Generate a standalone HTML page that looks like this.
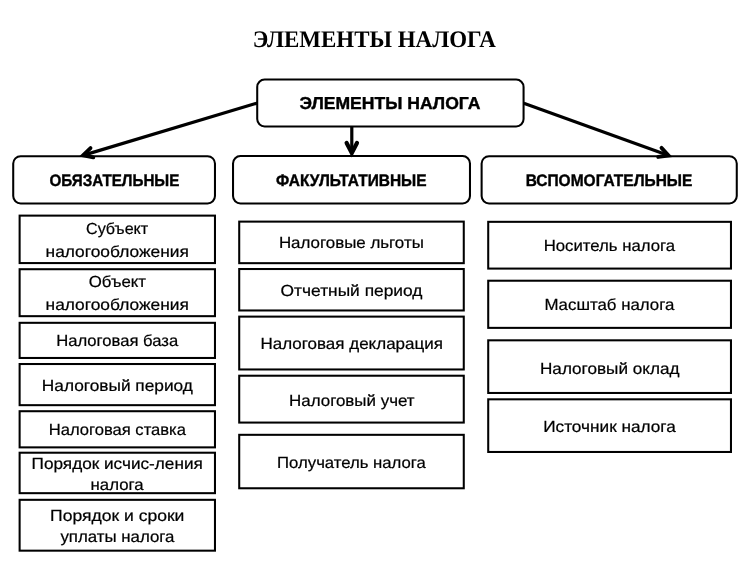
<!DOCTYPE html>
<html lang="ru"><head><meta charset="utf-8"><title>Элементы налога</title>
<style>html,body{margin:0;padding:0;background:#fff;}body{width:750px;height:561px;overflow:hidden;font-family:"Liberation Sans",sans-serif;}svg{display:block;will-change:transform;}text{fill:#000;}</style></head><body>
<svg width="750" height="561" viewBox="0 0 750 561">
<rect x="0" y="0" width="750" height="561" fill="#fff"/>
<rect x="257.22" y="79.53" width="266.35" height="46.95" rx="7.4" ry="7.4" fill="#fff" stroke="#000" stroke-width="2.05"/>
<rect x="13.22" y="156.22" width="201.75" height="47.25" rx="7.4" ry="7.4" fill="#fff" stroke="#000" stroke-width="2.05"/>
<rect x="233.03" y="156.03" width="236.95" height="47.45" rx="7.4" ry="7.4" fill="#fff" stroke="#000" stroke-width="2.05"/>
<rect x="481.62" y="156.22" width="255.15" height="47.25" rx="7.4" ry="7.4" fill="#fff" stroke="#000" stroke-width="2.05"/>
<rect x="19.62" y="215.62" width="195.35" height="47.45" fill="#fff" stroke="#000" stroke-width="2.05"/>
<rect x="19.62" y="269.22" width="195.35" height="46.95" fill="#fff" stroke="#000" stroke-width="2.05"/>
<rect x="19.62" y="322.82" width="195.35" height="35.15" fill="#fff" stroke="#000" stroke-width="2.05"/>
<rect x="19.62" y="364.02" width="195.35" height="41.15" fill="#fff" stroke="#000" stroke-width="2.05"/>
<rect x="19.62" y="411.22" width="195.35" height="36.15" fill="#fff" stroke="#000" stroke-width="2.05"/>
<rect x="19.62" y="452.72" width="195.35" height="40.45" fill="#fff" stroke="#000" stroke-width="2.05"/>
<rect x="19.62" y="499.82" width="195.35" height="50.85" fill="#fff" stroke="#000" stroke-width="2.05"/>
<rect x="239.22" y="221.62" width="224.55" height="41.55" fill="#fff" stroke="#000" stroke-width="2.05"/>
<rect x="239.22" y="269.02" width="224.55" height="41.45" fill="#fff" stroke="#000" stroke-width="2.05"/>
<rect x="239.22" y="316.62" width="224.55" height="52.85" fill="#fff" stroke="#000" stroke-width="2.05"/>
<rect x="239.22" y="375.72" width="224.55" height="46.85" fill="#fff" stroke="#000" stroke-width="2.05"/>
<rect x="239.22" y="434.82" width="224.55" height="53.45" fill="#fff" stroke="#000" stroke-width="2.05"/>
<rect x="488.22" y="221.83" width="242.75" height="46.75" fill="#fff" stroke="#000" stroke-width="2.05"/>
<rect x="488.22" y="280.72" width="242.75" height="47.15" fill="#fff" stroke="#000" stroke-width="2.05"/>
<rect x="488.22" y="340.32" width="242.75" height="52.65" fill="#fff" stroke="#000" stroke-width="2.05"/>
<rect x="488.22" y="399.32" width="242.75" height="52.65" fill="#fff" stroke="#000" stroke-width="2.05"/>
<line x1="257.5" y1="103.0" x2="83.00" y2="155.40" stroke="#000" stroke-width="3.2" stroke-linecap="butt"/><polyline points="90.53,148.08 83.00,155.40 93.31,157.36" fill="none" stroke="#000" stroke-width="3.8" stroke-linecap="round" stroke-linejoin="miter"/>
<line x1="351.8" y1="126.4" x2="351.80" y2="152.90" stroke="#000" stroke-width="3.2" stroke-linecap="butt"/><polyline points="346.63,142.97 351.80,152.90 356.97,142.97" fill="none" stroke="#000" stroke-width="4.2" stroke-linecap="round" stroke-linejoin="miter"/>
<line x1="523.8" y1="103.2" x2="668.60" y2="155.60" stroke="#000" stroke-width="3.2" stroke-linecap="butt"/><polyline points="658.19,156.99 668.60,155.60 661.49,147.87" fill="none" stroke="#000" stroke-width="3.8" stroke-linecap="round" stroke-linejoin="miter"/>
<text x="252.8" y="47.4" font-family="Liberation Serif" font-size="23.8" font-weight="bold" textLength="243.00" lengthAdjust="spacingAndGlyphs" text-rendering="geometricPrecision">ЭЛЕМЕНТЫ НАЛОГА</text>
<text x="299.6" y="109.2" font-family="Liberation Sans" font-size="17.3" font-weight="bold" textLength="180.80" lengthAdjust="spacingAndGlyphs" text-rendering="geometricPrecision" stroke="#000" stroke-width="0.4">ЭЛЕМЕНТЫ НАЛОГА</text>
<text x="49.4" y="185.5" font-family="Liberation Sans" font-size="16.7" font-weight="bold" textLength="130.00" lengthAdjust="spacingAndGlyphs" text-rendering="geometricPrecision" stroke="#000" stroke-width="0.4">ОБЯЗАТЕЛЬНЫЕ</text>
<text x="276" y="185.5" font-family="Liberation Sans" font-size="16.7" font-weight="bold" textLength="150.60" lengthAdjust="spacingAndGlyphs" text-rendering="geometricPrecision" stroke="#000" stroke-width="0.4">ФАКУЛЬТАТИВНЫЕ</text>
<text x="525.7" y="185.5" font-family="Liberation Sans" font-size="16.7" font-weight="bold" textLength="166.70" lengthAdjust="spacingAndGlyphs" text-rendering="geometricPrecision" stroke="#000" stroke-width="0.4">ВСПОМОГАТЕЛЬНЫЕ</text>
<text x="86" y="234" font-family="Liberation Sans" font-size="16.0" font-weight="normal" textLength="62.20" lengthAdjust="spacingAndGlyphs" text-rendering="geometricPrecision" stroke="#000" stroke-width="0.22">Субъект</text>
<text x="45.6" y="256.8" font-family="Liberation Sans" font-size="16.0" font-weight="normal" textLength="143.20" lengthAdjust="spacingAndGlyphs" text-rendering="geometricPrecision" stroke="#000" stroke-width="0.22">налогообложения</text>
<text x="88.8" y="287" font-family="Liberation Sans" font-size="16.0" font-weight="normal" textLength="57.20" lengthAdjust="spacingAndGlyphs" text-rendering="geometricPrecision" stroke="#000" stroke-width="0.22">Объект</text>
<text x="45.6" y="309.6" font-family="Liberation Sans" font-size="16.0" font-weight="normal" textLength="143.20" lengthAdjust="spacingAndGlyphs" text-rendering="geometricPrecision" stroke="#000" stroke-width="0.22">налогообложения</text>
<text x="56.2" y="346" font-family="Liberation Sans" font-size="16.0" font-weight="normal" textLength="122.00" lengthAdjust="spacingAndGlyphs" text-rendering="geometricPrecision" stroke="#000" stroke-width="0.22">Налоговая база</text>
<text x="41.8" y="390.8" font-family="Liberation Sans" font-size="16.0" font-weight="normal" textLength="151.10" lengthAdjust="spacingAndGlyphs" text-rendering="geometricPrecision" stroke="#000" stroke-width="0.22">Налоговый период</text>
<text x="48.8" y="435" font-family="Liberation Sans" font-size="16.0" font-weight="normal" textLength="137.10" lengthAdjust="spacingAndGlyphs" text-rendering="geometricPrecision" stroke="#000" stroke-width="0.22">Налоговая ставка</text>
<text x="31.6" y="468.6" font-family="Liberation Sans" font-size="16.0" font-weight="normal" textLength="171.20" lengthAdjust="spacingAndGlyphs" text-rendering="geometricPrecision" stroke="#000" stroke-width="0.22">Порядок исчис-ления</text>
<text x="90.6" y="490.4" font-family="Liberation Sans" font-size="16.0" font-weight="normal" textLength="53.00" lengthAdjust="spacingAndGlyphs" text-rendering="geometricPrecision" stroke="#000" stroke-width="0.22">налога</text>
<text x="50.1" y="520.6" font-family="Liberation Sans" font-size="16.0" font-weight="normal" textLength="134.30" lengthAdjust="spacingAndGlyphs" text-rendering="geometricPrecision" stroke="#000" stroke-width="0.22">Порядок и сроки</text>
<text x="60.4" y="542.4" font-family="Liberation Sans" font-size="16.0" font-weight="normal" textLength="114.10" lengthAdjust="spacingAndGlyphs" text-rendering="geometricPrecision" stroke="#000" stroke-width="0.22">уплаты налога</text>
<text x="278.9" y="248" font-family="Liberation Sans" font-size="16.0" font-weight="normal" textLength="144.90" lengthAdjust="spacingAndGlyphs" text-rendering="geometricPrecision" stroke="#000" stroke-width="0.22">Налоговые льготы</text>
<text x="280.6" y="296" font-family="Liberation Sans" font-size="16.0" font-weight="normal" textLength="141.80" lengthAdjust="spacingAndGlyphs" text-rendering="geometricPrecision" stroke="#000" stroke-width="0.22">Отчетный период</text>
<text x="260.5" y="348.5" font-family="Liberation Sans" font-size="16.0" font-weight="normal" textLength="182.40" lengthAdjust="spacingAndGlyphs" text-rendering="geometricPrecision" stroke="#000" stroke-width="0.22">Налоговая декларация</text>
<text x="289" y="406" font-family="Liberation Sans" font-size="16.0" font-weight="normal" textLength="125.60" lengthAdjust="spacingAndGlyphs" text-rendering="geometricPrecision" stroke="#000" stroke-width="0.22">Налоговый учет</text>
<text x="277.1" y="468" font-family="Liberation Sans" font-size="16.0" font-weight="normal" textLength="148.80" lengthAdjust="spacingAndGlyphs" text-rendering="geometricPrecision" stroke="#000" stroke-width="0.22">Получатель налога</text>
<text x="543.7" y="251" font-family="Liberation Sans" font-size="16.0" font-weight="normal" textLength="131.40" lengthAdjust="spacingAndGlyphs" text-rendering="geometricPrecision" stroke="#000" stroke-width="0.22">Носитель налога</text>
<text x="544.4" y="310" font-family="Liberation Sans" font-size="16.0" font-weight="normal" textLength="130.00" lengthAdjust="spacingAndGlyphs" text-rendering="geometricPrecision" stroke="#000" stroke-width="0.22">Масштаб налога</text>
<text x="540" y="373.5" font-family="Liberation Sans" font-size="16.0" font-weight="normal" textLength="139.50" lengthAdjust="spacingAndGlyphs" text-rendering="geometricPrecision" stroke="#000" stroke-width="0.22">Налоговый оклад</text>
<text x="543.2" y="432" font-family="Liberation Sans" font-size="16.0" font-weight="normal" textLength="132.60" lengthAdjust="spacingAndGlyphs" text-rendering="geometricPrecision" stroke="#000" stroke-width="0.22">Источник налога</text>
</svg></body></html>
